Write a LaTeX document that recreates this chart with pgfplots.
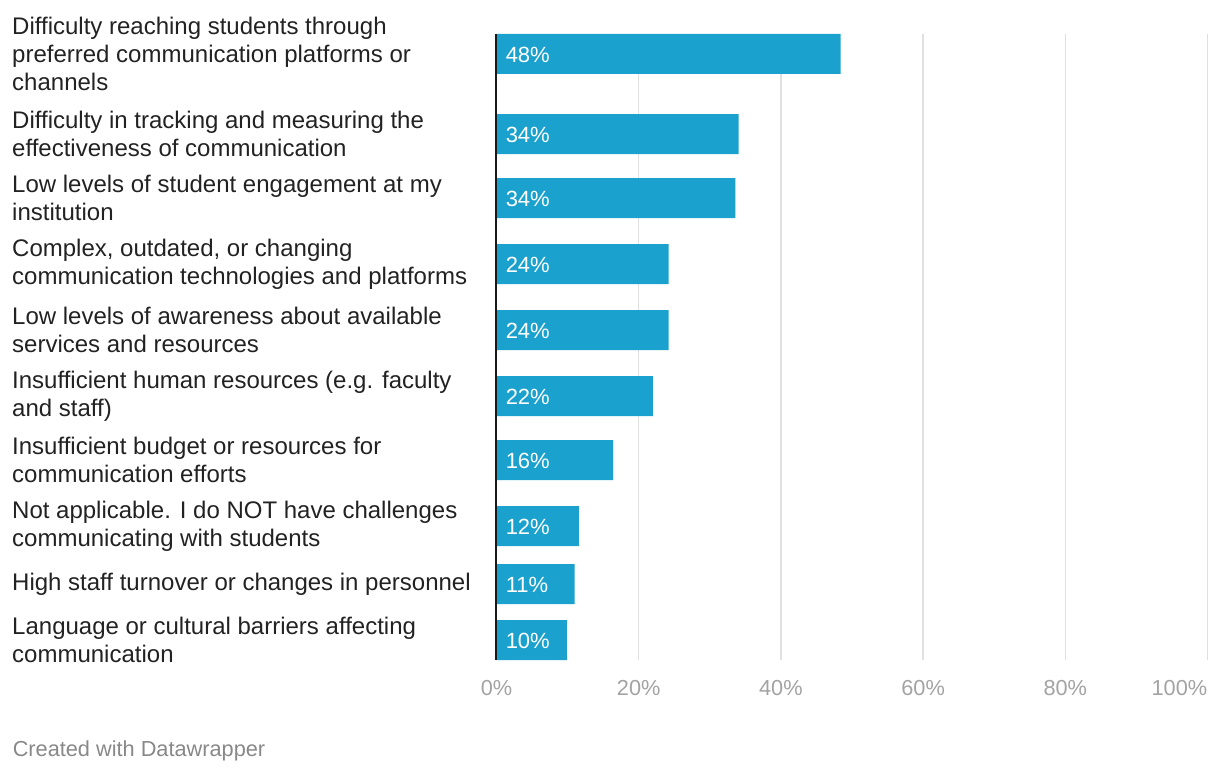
\documentclass[border=0pt]{standalone}
\usepackage{fontspec}
\setmainfont{Liberation Sans}
\usepackage{pgfplots}
\pgfplotsset{compat=1.18}
\usepackage{pgfplotstable}
\definecolor{barblue}{HTML}{1AA1CD}
\definecolor{labeltext}{HTML}{222222}
\definecolor{ticktext}{HTML}{A3A3A3}
\definecolor{gridgray}{HTML}{E0E0E0}
\definecolor{foot}{HTML}{888888}

\pgfplotstableread{
y   val   lab
54  48.4  48
134 34.05 34
198 33.6  34
264 24.2  24
330 24.2  24
396 22.0  22
460 16.4  16
526 11.6  12
584 11.0  11
640 9.9   10
}\datatable

\begin{document}
\begin{tikzpicture}
\useasboundingbox (-372.375pt,-85.5pt) rectangle (542.625pt,495pt);
\begin{axis}[
  scale only axis,
  width=533.25pt, height=469.5pt,
  xmin=0, xmax=100,
  ymin=34, ymax=660,
  y dir=reverse,
  clip=false,
  axis line style={draw=none},
  major tick length=0pt,
  xtick={0,20,40,60,80},
  xticklabels={0\%,20\%,40\%,60\%,80\%},
  extra x ticks={100},
  extra x tick labels={100\%},
  extra x tick style={grid=major, major grid style={gridgray, line width=1.2pt},
    xticklabel style={anchor=base east, xshift=0pt}},
  xmajorgrids,
  major grid style={gridgray, line width=1.2pt},
  xticklabel style={anchor=base, inner sep=0pt, yshift=-26.25pt,
    font=\fontsize{16.3}{19}\selectfont, text=ticktext},
  ytick={54,134,198,264,330,396,460,526,584,640},
  yticklabels={
    {Difficulty reaching students through\\preferred communication platforms or\\channels},
    {Difficulty in tracking and measuring the\\effectiveness of communication},
    {Low levels of student engagement at my\\institution},
    {Complex, outdated, or changing\\communication technologies and platforms},
    {Low levels of awareness about available\\services and resources},
    {Insufficient human resources (e.g. faculty\\and staff)},
    {Insufficient budget or resources for\\communication efforts},
    {Not applicable. I do NOT have challenges\\communicating with students},
    {High staff turnover or changes in personnel},
    {Language or cultural barriers affecting\\communication}
  },
  yticklabel style={anchor=west, align=left, inner sep=0pt, xshift=-363.4pt,
    font=\fontsize{18}{21}\selectfont, text=labeltext},
]
\addplot[xbar, fill=barblue, draw=none, bar width=30pt] table[x=val, y=y] {\datatable};
\addplot[draw=none, point meta=explicit,
  nodes near coords={\pgfmathprintnumber[fixed,precision=0,assume math mode=true]{\pgfplotspointmeta}\%},
  nodes near coords style={anchor=base west, inner sep=0pt, xshift=6.75pt, yshift=-6.2pt,
    text=white, font=\fontsize{16.5}{19}\selectfont}]
  table[x expr=0, y=y, meta=lab] {\datatable};
\addplot[black!90, line width=1.3pt] coordinates {(-0.06,34) (-0.06,660)};
\end{axis}
\node[anchor=base west, inner sep=0pt, text=foot, font=\fontsize{16.3}{19}\selectfont]
  at (-363pt,-72.5pt) {Created with Datawrapper};
\end{tikzpicture}
\end{document}
